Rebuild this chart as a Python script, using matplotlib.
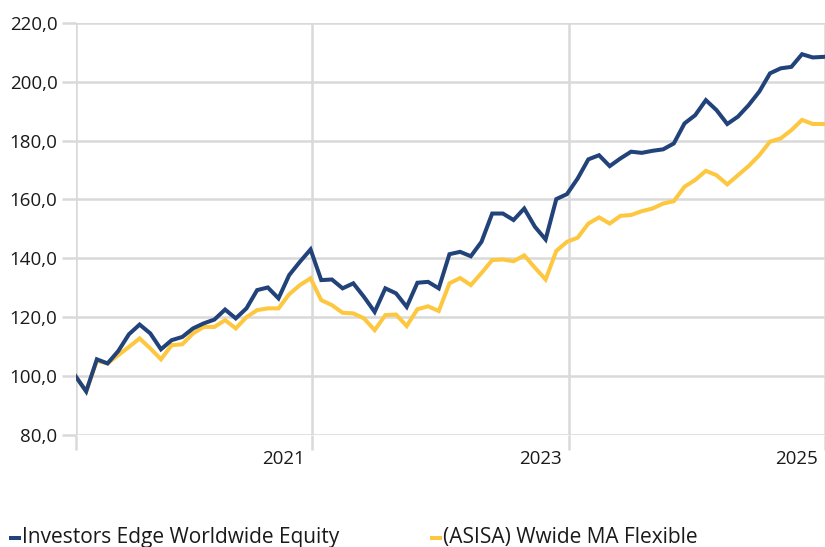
import matplotlib
matplotlib.use("Agg")
import matplotlib.pyplot as plt
from matplotlib.patches import Rectangle

months = list(range(71))
investors_edge = [100.0, 94.8, 105.7, 104.3, 108.5, 114.2, 117.5, 114.5, 109.1, 112.2,
                  113.3, 116.2, 117.9, 119.2, 122.6, 119.6, 123.0, 129.2, 130.1, 126.4,
                  134.3, 138.8, 143.0, 132.6, 132.8, 129.8, 131.5, 126.9, 121.8, 129.8,
                  128.1, 123.5, 131.7, 132.0, 129.8, 141.4, 142.2, 140.7, 145.6, 155.2,
                  155.2, 153.0, 156.9, 150.7, 146.4, 160.1, 161.8, 167.1, 173.6, 175.0,
                  171.3, 173.9, 176.2, 175.8, 176.5, 177.0, 179.0, 185.8, 188.6, 193.7,
                  190.3, 185.6, 188.1, 192.0, 196.6, 202.8, 204.5, 205.0, 209.3, 208.2, 208.4]
asisa_flex = [100.0, 94.8, 105.2, 104.3, 107.1, 109.9, 112.8, 109.4, 105.7, 110.5,
              110.8, 114.5, 116.7, 116.7, 119.0, 116.2, 120.0, 122.4, 123.0, 123.0,
              127.8, 130.9, 133.2, 125.8, 124.1, 121.5, 121.3, 119.6, 115.6, 120.7,
              120.9, 117.0, 122.7, 123.7, 122.1, 131.5, 133.3, 130.9, 135.0, 139.4,
              139.6, 139.0, 141.0, 136.8, 132.8, 142.5, 145.6, 147.0, 151.8, 153.9,
              151.8, 154.4, 154.7, 156.0, 156.9, 158.6, 159.4, 164.3, 166.6, 169.7,
              168.2, 165.1, 168.2, 171.3, 175.0, 179.6, 180.7, 183.5, 187.0, 185.6, 185.6]
year_positions = [22.15, 46.15, 70.15]
year_labels = ["2021", "2023", "2025"]
y_ticks = [80, 100, 120, 140, 160, 180, 200, 220]
series_names = ["Investors Edge Worldwide Equity", "(ASISA) Wwide MA Flexible"]

BLUE = "#22427a"
YELLOW = "#fdc840"
GRID = "#d9d9d9"
FONT = "Open Sans"

W, H = 825, 547
fig = plt.figure(figsize=(W / 100, H / 100), dpi=100)
ax = fig.add_axes([75.5 / W, 1 - 435 / H, 1 - 75.5 / W, (435 - 22.7) / H])
ax.set_xlim(0, 70)
ax.set_ylim(80, 220)

ax.plot(months, asisa_flex, color=YELLOW, lw=2.9, solid_joinstyle="miter", zorder=3)
ax.plot(months, investors_edge, color=BLUE, lw=2.9, solid_joinstyle="miter", zorder=4)

for s in ax.spines.values():
    s.set_visible(False)
ax.axvline(0, color=GRID, lw=1.8, zorder=1)

ax.set_yticks(y_ticks)
ax.set_yticklabels([f"{v:.1f}".replace(".", ",") for v in y_ticks],
                   fontsize=13.5, fontfamily=FONT, color="#1a1a1a")
ax.tick_params(axis="y", length=10, width=1.8, color=GRID, pad=3)
ax.grid(axis="y", color=GRID, lw=1.8, zorder=1)

ax.set_xticks([0] + year_positions)
ax.set_xticklabels([])
ax.tick_params(axis="x", length=11, width=1.8, color=GRID)
for xp in year_positions:
    ax.axvline(xp, color=GRID, lw=1.8, zorder=1)
for xp, lab in zip(year_positions, year_labels):
    ax.annotate(lab, xy=(xp, 0), xycoords=("data", "axes fraction"),
                xytext=(-5, -17), textcoords="offset points",
                ha="right", va="center", fontsize=13.5, fontfamily=FONT, color="#1a1a1a",
                annotation_clip=False)

# legend
legend_y = 1 - 537 / H
fig.add_artist(Rectangle((9 / W, 1 - 540 / H), 12 / W, 4.5 / H, transform=fig.transFigure,
                         color=BLUE, lw=0))
fig.text(22 / W, legend_y, series_names[0], fontsize=15, fontfamily=FONT,
         color="#1a1a1a", va="center", ha="left")
fig.add_artist(Rectangle((430 / W, 1 - 540 / H), 12 / W, 4.5 / H, transform=fig.transFigure,
                         color=YELLOW, lw=0))
fig.text(443 / W, legend_y, series_names[1], fontsize=15, fontfamily=FONT,
         color="#1a1a1a", va="center", ha="left")

fig.savefig("out.png", dpi=100)
